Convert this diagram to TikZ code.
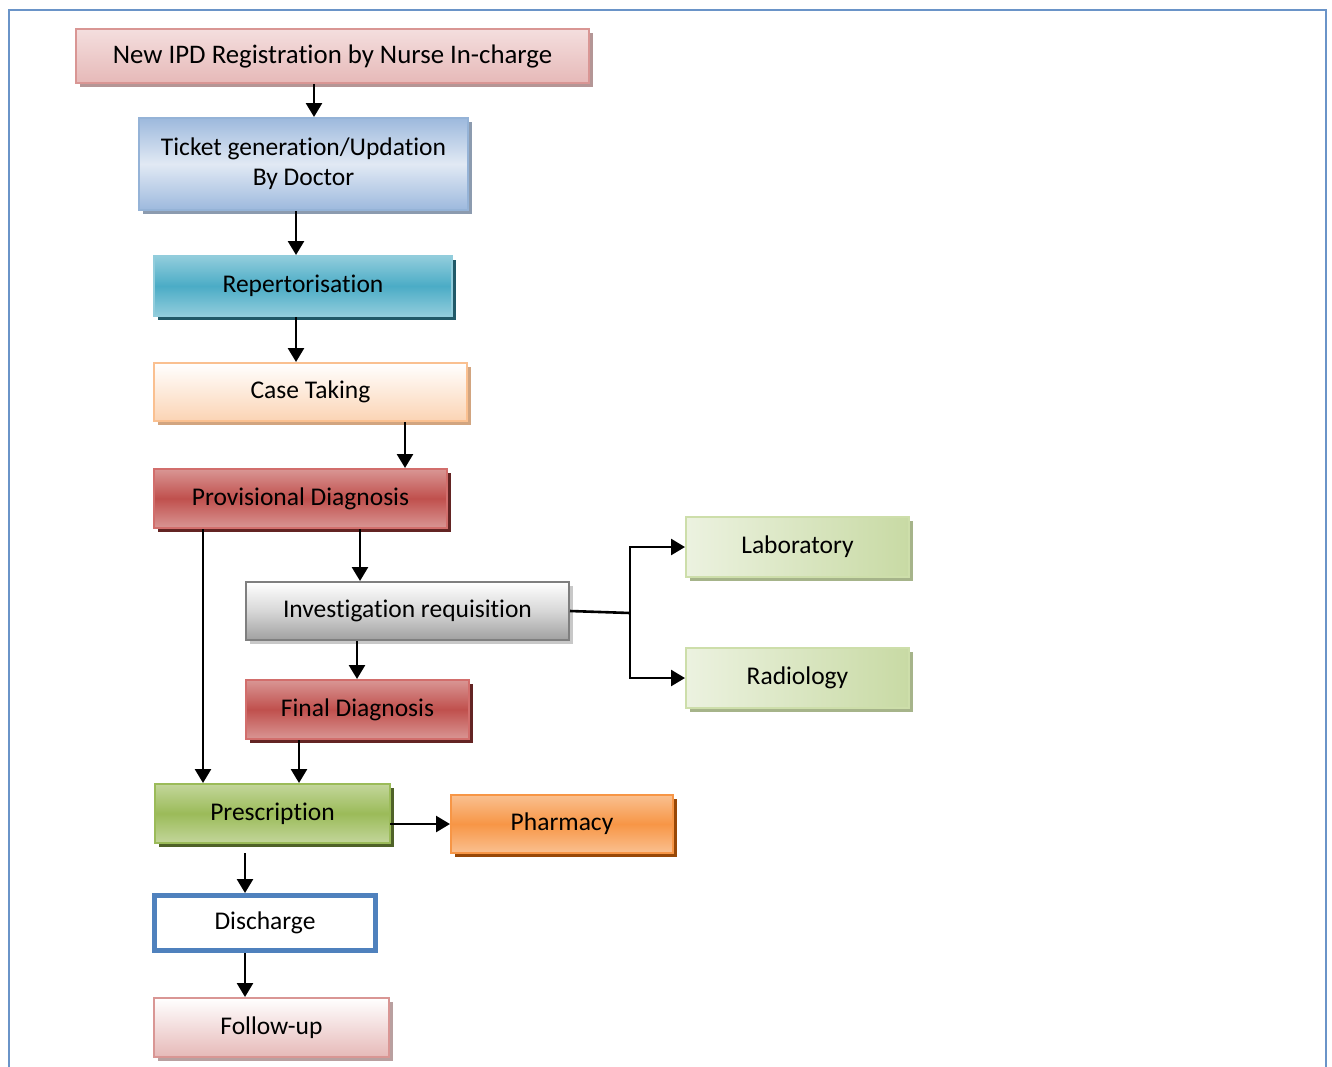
\documentclass[tikz,border=0pt]{standalone}
\usepackage{fontspec}
\setmainfont{Carlito}[Ligatures=NoCommon, RawFeature=-clig, RawFeature=-calt]
\usetikzlibrary{arrows.meta,shadows}
\definecolor{frameblue}{HTML}{6A94C8}
\definecolor{pinkD}{HTML}{D99694}
\definecolor{pinkL}{HTML}{F4DEDE}
\definecolor{pinkM}{HTML}{E6B9B8}
\definecolor{pinkS}{HTML}{B49696}
\definecolor{blueB}{HTML}{95B3D7}
\definecolor{blueD}{HTML}{9DB9DD}
\definecolor{blueL}{HTML}{E1E9F4}
\definecolor{blueS}{HTML}{8C9BAF}
\definecolor{tealL}{HTML}{92CDDC}
\definecolor{tealM}{HTML}{4BACC6}
\definecolor{tealS}{HTML}{215968}
\definecolor{orL}{HTML}{FBD4B4}
\definecolor{orB}{HTML}{FAC090}
\definecolor{orS}{HTML}{D2A580}
\definecolor{redB}{HTML}{D26E6C}
\definecolor{redL}{HTML}{D99694}
\definecolor{redM}{HTML}{C0504D}
\definecolor{redS}{HTML}{632423}
\definecolor{grB}{HTML}{7F7F7F}
\definecolor{grM}{HTML}{D7D7D7}
\definecolor{grD}{HTML}{A0A0A0}
\definecolor{grS}{HTML}{C8C8C8}
\definecolor{lgB}{HTML}{CDDEAA}
\definecolor{lgL}{HTML}{ECF2E0}
\definecolor{lgD}{HTML}{C8DAA4}
\definecolor{lgS}{HTML}{A6B48A}
\definecolor{gL}{HTML}{C3D69B}
\definecolor{gM}{HTML}{9BBB59}
\definecolor{gS}{HTML}{4F6228}
\definecolor{oL}{HTML}{FAC090}
\definecolor{oM}{HTML}{F79646}
\definecolor{oS}{HTML}{984807}
\definecolor{dblue}{HTML}{4F81BD}
\definecolor{fS}{HTML}{B9A0A0}
\tikzset{
  box/.style={rectangle, inner sep=0pt, line width=2pt, align=center, text=black,
    font=\fontsize{25.5}{30}\selectfont},
  shad/.style={general shadow={fill=#1, shadow xshift=4pt, shadow yshift=-4pt}},
  arr/.style={line width=2.6pt, -{Triangle[length=14pt,width=16pt]}},
  link/.style={line width=2.6pt},
}
\begin{document}
\begin{tikzpicture}[x=1pt,y=-1pt]
\useasboundingbox (0,0) rectangle (1332,1066);
\draw[frameblue, line width=2pt] (9,1070) -- (9,10) -- (1326,10) -- (1326,1070);

\node[box, font=\fontsize{26.8}{31}\selectfont, minimum width=513pt, minimum height=54pt, draw=pinkD, top color=pinkL, bottom color=pinkM, shad=pinkS] (nip) at (332.5,56) {New IPD Registration by Nurse In-charge};

\node[box, minimum width=329pt, minimum height=92pt, draw=blueB, shading angle=-40, top color=blueD, bottom color=blueD, middle color=blueL, shad=blueS] (tick) at (303.5,164) {Ticket generation/Updation\\By Doctor};

\node[box, minimum width=298pt, minimum height=60pt, draw=tealL, top color=tealL, bottom color=tealL, middle color=tealM, shad=tealS] (rep) at (303,286) {Repertorisation};

\node[box, minimum width=313pt, minimum height=58pt, draw=orB, top color=white, bottom color=orL, shad=orS] (case) at (310.5,392) {Case Taking};

\node[box, minimum width=293pt, minimum height=59pt, draw=redB, top color=redL, bottom color=redL, middle color=redM, shad=redS] (prov) at (300.5,498.5) {Provisional Diagnosis};

\node[box, minimum width=323pt, minimum height=58pt, draw=grB, top color=white, bottom color=grD, middle color=grM, shad=grS] (inv) at (407.5,611) {Investigation requisition};

\node[box, minimum width=223pt, minimum height=59pt, draw=redB, top color=redL, bottom color=redL, middle color=redM, shad=redS] (fin) at (357.5,709.5) {Final Diagnosis};

\node[box, minimum width=223pt, minimum height=60pt, draw=lgB, shading angle=120, left color=lgL, right color=lgD, shad=lgS] (lab) at (797.5,547) {Laboratory};

\node[box, minimum width=223pt, minimum height=60pt, draw=lgB, shading angle=120, left color=lgL, right color=lgD, shad=lgS] (rad) at (797.5,678) {Radiology};

\node[box, minimum width=235pt, minimum height=59pt, draw=gM, top color=gL, bottom color=gL, middle color=gM, shad=gS] (pres) at (272.5,813.5) {Prescription};

\node[box, minimum width=222pt, minimum height=58pt, draw=oM, top color=oL, bottom color=oL, middle color=oM, shad=oS] (pharm) at (562,824) {Pharmacy};

\node[box, minimum width=221pt, minimum height=55pt, draw=dblue, line width=5pt, fill=white] (dis) at (265,923) {Discharge};

\node[box, minimum width=235pt, minimum height=59pt, draw=pinkD, top color=white, bottom color=pinkM, shad=fS] (fol) at (271.5,1027.5) {Follow-up};

% connectors
\draw[arr] (314,0 |- nip.south) -- (314,0 |- tick.north);
\draw[arr] (296,0 |- tick.south) -- (296,0 |- rep.north);
\draw[arr] (296,0 |- rep.south) -- (296,0 |- case.north);
\draw[arr] (405,0 |- case.south) -- (405,0 |- prov.north);
\draw[arr] (360,0 |- prov.south) -- (360,0 |- inv.north);
\draw[arr] (203,0 |- prov.south) -- (203,0 |- pres.north);
\draw[arr] (357,0 |- inv.south) -- (357,0 |- fin.north);
\draw[arr] (299,0 |- fin.south) -- (299,0 |- pres.north);
\draw[link] (inv.east) -- (630,613) coordinate (split);
\draw[arr] (split) |- (lab.west);
\draw[arr] (split) |- (rad.west);
\draw[arr] (390,824) -- (pharm.west);
\draw[arr] ([yshift=-9pt]245,0 |- pres.south) -- (245,0 |- dis.north);
\draw[arr] (245,0 |- dis.south) -- (245,0 |- fol.north);
\end{tikzpicture}
\end{document}
